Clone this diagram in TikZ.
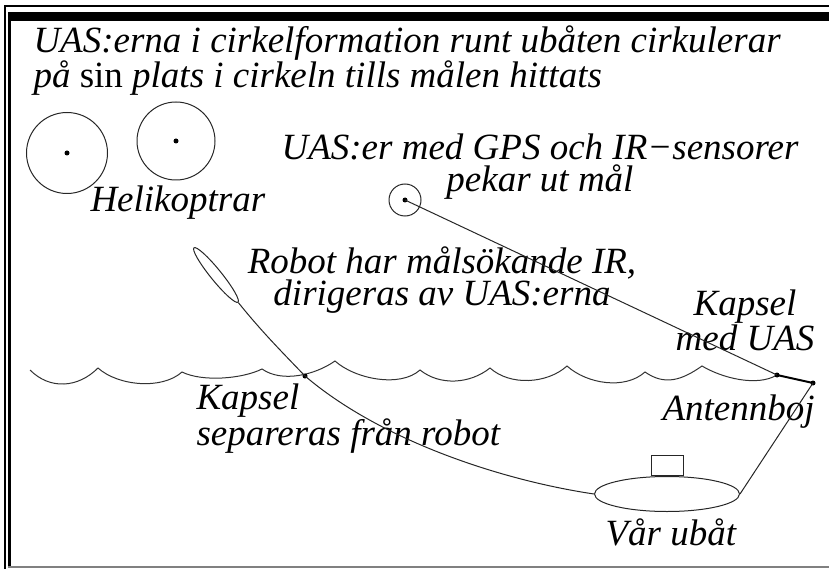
\documentclass[tikz,border=0pt]{standalone}
\usepackage{fontspec}
\setmainfont{Liberation Serif}
\usetikzlibrary{shapes.geometric}
\newcommand\lbl{\fontsize{37}{32}\selectfont\itshape}

\begin{document}
\begin{tikzpicture}[x=1pt,y=-1pt,line width=1pt,
  label text/.style={font=\lbl,inner sep=0pt,anchor=base west},
  heli/.style={circle,draw=black!85,inner sep=0pt},
  dot/.style={circle,fill,inner sep=0pt,minimum size=5pt},
  wave/.style={draw=black!80},
  wire/.style={draw=black!85}]
  \useasboundingbox (0,0) rectangle (829,569);
  % frame
  \draw[line width=1.5pt] (5,569) -- (5,6) -- (829,6);
  \fill (8,12) rectangle (829,21);
  \fill (8,12) rectangle (11,566);
  \draw[gray,line width=2pt] (8,567) -- (829,567);
  % texts (base = last line)
  \node[label text,align=left] (title) at (33,88)
    {UAS:erna i cirkelformation runt ubåten cirkulerar\\
     på {\upshape sin} plats i cirkeln tills målen hittats};
  \node[label text] (helilbl) at (90,212) {Helikoptrar};
  \node[label text,anchor=base,align=center] (uaslbl) at (540,192)
    {UAS:er med GPS och IR−sensorer\\pekar ut mål};
  \node[label text,anchor=base,align=center] (robotlbl) at (442,305)
    {Robot har målsökande IR,\\dirigeras av UAS:erna};
  \node[label text,anchor=base,align=center] (kapsel) at (745,350)
    {Kapsel\\med UAS};
  \node[label text,align=left] (sep) at (196,445)
    {Kapsel\\separeras från robot};
  \node[label text] (boj) at (662,420) {Antennboj};
  \node[label text] (ubatlbl) at (605,545) {Vår ubåt};
  % helicopters and UAS
  \node[heli,minimum size=81pt] (h1) at (67,153) {};
  \node[dot] (h1c) at (h1.center) {};
  \node[heli,minimum size=78pt] (h2) at (176,141) {};
  \node[dot] (h2c) at (h2.center) {};
  \node[heli,minimum size=32pt] (uas) at (405,200) {};
  \node[dot] (uasc) at (uas.center) {};
  % robot and submarine
  \node[ellipse,draw=black!85,inner sep=0pt,minimum width=70pt,
    minimum height=11pt,rotate=-51] (robot) at (216,275) {};
  \node[ellipse,draw=black!85,inner sep=0pt,minimum width=145pt,
    minimum height=35pt] (sub) at (667,494) {};
  \node[draw=black!85,inner sep=0pt,minimum width=32pt,minimum height=20pt,
    anchor=south] (tower) at (sub.north) {};
  % sea
  \draw[wave] (30,370)
    \foreach \x/\y/\s in {98/368/20,182/372/18,262/369/10,335/361/14,
      420/370/18,490/368/16,567/366/18,645/372/18,702/366/14,777/375/12}
    { .. controls +(20,\s) and +(-20,\s) .. (\x,\y) };
  \coordinate (split) at (305,376);
  \coordinate (capsule) at (777,375);
  \coordinate (buoy) at (813,383);
  \node[dot] (splitd) at (split) {};
  \node[dot] (capd) at (capsule) {};
  \node[dot] (buoyd) at (buoy) {};
  % wires
  \draw[wire] (robot.east) .. controls (262,332) and (282,352) .. (splitd.center)
    .. controls (380,440) and (500,480) .. (sub.west);
  \draw[wire] (uasc.center) -- (capd.center);
  \draw[line width=2pt] (capd.center) -- (buoyd.center);
  \draw[wire] (buoyd.center) -- (sub.east);
\end{tikzpicture}
\end{document}
